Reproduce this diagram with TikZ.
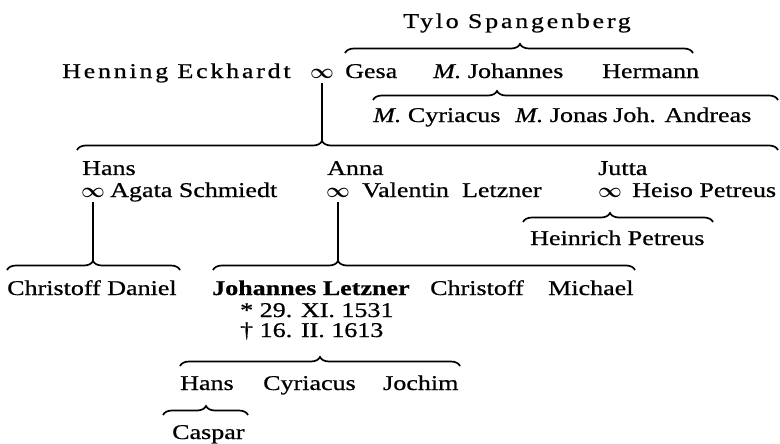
\documentclass[tikz,border=0pt]{standalone}
\usepackage{fontspec}
\setmainfont{Liberation Serif}[FakeStretch=1.24,FakeBold=0.7]
\newfontfamily\sperrfont{Liberation Serif}[FakeStretch=1.24,FakeBold=0.7,LetterSpace=13]
\usetikzlibrary{decorations.pathreplacing}
\tikzset{person/.style={anchor=base west,inner sep=0pt,font=\fontsize{21}{25}\selectfont},
 gesperrt/.style={person,font=\fontsize{21}{25}\sperrfont},
 ehe/.style={anchor=base,inner sep=0pt,font=\fontsize{21}{25}\selectfont\boldmath},
 stamm/.style={draw,line width=1.9pt},
 klammer/.style={draw,line width=1.7pt,decorate,decoration={brace,amplitude=9pt,aspect=#1}},
 }

\begin{document}
\begin{tikzpicture}[x=1pt,y=-1pt]
        \useasboundingbox (0,0) rectangle (780,444);
        % Eltern und Spangenberg
        \node[gesperrt] (tylo) at (403,28) {Tylo Spangenberg};
        \node[gesperrt] (henning) at (62,78) {Henning Eckhardt};
        \node[ehe] (eheEck) at (322,78) {$\infty$};
        \node[person] (gesa) at (345,78) {Gesa};
        \node[person] (johannes) at (433,78) {\textit{M.} Johannes};
        \node[person] (hermann) at (602,78) {Hermann};
        \node[person] (cyriacus) at (373,122) {\textit{M.} Cyriacus};
        \node[person] (jonas) at (515,122) {\textit{M.} Jonas};
        \node[person] (andreas) at (613,122) {Joh. Andreas};
        % Kinder
        \node[person] (hans) at (82,175) {Hans};
        \node[ehe] (eheHans) at (93,197) {$\infty$};
        \node[person] (agata) at (110,197) {Agata Schmiedt};
        \node[person] (anna) at (327,175) {Anna};
        \node[ehe] (eheAnna) at (338,197) {$\infty$};
        \node[person] (valentin) at (362,197) {Valentin\ \ Letzner};
        \node[person] (jutta) at (598,175) {Jutta};
        \node[ehe] (eheJutta) at (610,197) {$\infty$};
        \node[person] (heiso) at (632,197) {Heiso Petreus};
        \node[person] (heinrich) at (530,245) {Heinrich Petreus};
        % Enkel
        \node[person] (daniel) at (7,295) {Christoff Daniel};
        \node[person,font=\fontsize{21}{25}\selectfont\bfseries] (letzner) at (212,295) {Johannes Letzner};
        \node[person] (christoff) at (430,295) {Christoff};
        \node[person] (michael) at (548,295) {Michael};
        \node[person] (geboren) at (240,317) {* 29. XI. 1531};
        \node[person] (gestorben) at (240,337) {† 16. II. 1613};
        \node[person] (hansL) at (180,390) {Hans};
        \node[person] (cyriacusL) at (263,390) {Cyriacus};
        \node[person] (jochim) at (383,390) {Jochim};
        \node[person] (caspar) at (172,439) {Caspar};
        % Klammern
        \foreach \links/\rechts/\hoehe/\spitze in {345/693/53/520, 373/778/100/497, 77/778/150/322,
            523/713/222/610, 7/180/270/93, 213/635/270/338, 180/460/366/320, 163/248/415/206} {
            \pgfmathsetmacro\anteil{(\spitze-\links)/(\rechts-\links)}
            \draw[klammer=\anteil] (\links,\hoehe) -- (\rechts,\hoehe);
        }
        \coordinate (spitzeEck) at (322,141);
        \coordinate (spitzeHans) at (93,261);
        \coordinate (spitzeAnna) at (338,261);
        \draw[stamm] ([yshift=-5pt]eheEck.south) -- (spitzeEck);
        \draw[stamm] ([yshift=-5pt]eheHans.south) -- (spitzeHans);
        \draw[stamm] ([yshift=-5pt]eheAnna.south) -- (spitzeAnna);
    \end{tikzpicture}
\end{document}
